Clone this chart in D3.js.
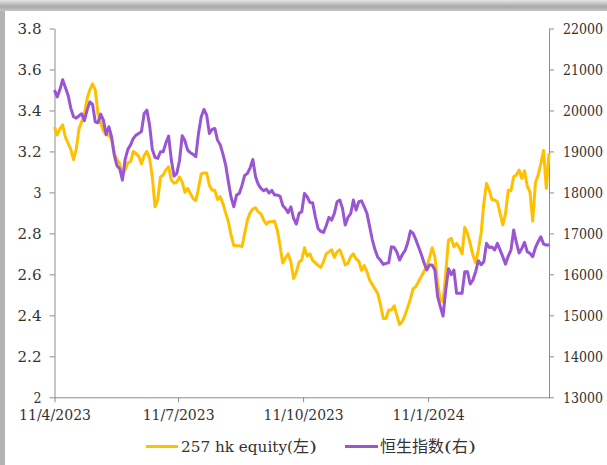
<!DOCTYPE html>
<html><head><meta charset="utf-8">
<script src="https://cdn.jsdelivr.net/npm/d3@7"></script>
<style>
html,body{margin:0;padding:0;background:#fff;}
svg{display:block;}
</style></head>
<body>
<svg id="chart" width="607" height="465"></svg>
<script>
const dates = [
"2023-04-11","2023-04-13","2023-04-15","2023-04-17","2023-04-19","2023-04-21","2023-04-23","2023-04-25","2023-04-27","2023-04-29",
"2023-05-01","2023-05-03","2023-05-05","2023-05-07","2023-05-09","2023-05-11","2023-05-13","2023-05-15","2023-05-17","2023-05-19",
"2023-05-21","2023-05-23","2023-05-25","2023-05-27","2023-05-29","2023-05-31","2023-06-02","2023-06-04","2023-06-06","2023-06-08",
"2023-06-10","2023-06-12","2023-06-14","2023-06-16","2023-06-18","2023-06-20","2023-06-22","2023-06-24","2023-06-26","2023-06-28",
"2023-06-30","2023-07-02","2023-07-04","2023-07-06","2023-07-08","2023-07-10","2023-07-12","2023-07-14","2023-07-16","2023-07-18",
"2023-07-20","2023-07-22","2023-07-24","2023-07-26","2023-07-28","2023-07-30","2023-08-01","2023-08-03","2023-08-05","2023-08-07",
"2023-08-09","2023-08-11","2023-08-13","2023-08-15","2023-08-17","2023-08-19","2023-08-21","2023-08-23","2023-08-25","2023-08-27",
"2023-08-29","2023-08-31","2023-09-02","2023-09-04","2023-09-06","2023-09-08","2023-09-10","2023-09-12","2023-09-14","2023-09-16",
"2023-09-18","2023-09-20","2023-09-22","2023-09-24","2023-09-26","2023-09-28","2023-09-30","2023-10-02","2023-10-04","2023-10-06",
"2023-10-08","2023-10-10","2023-10-12","2023-10-14","2023-10-16","2023-10-18","2023-10-20","2023-10-22","2023-10-24","2023-10-26",
"2023-10-28","2023-10-30","2023-11-01","2023-11-03","2023-11-05","2023-11-07","2023-11-09","2023-11-11","2023-11-13","2023-11-15",
"2023-11-17","2023-11-19","2023-11-21","2023-11-23","2023-11-25","2023-11-27","2023-11-29","2023-12-01","2023-12-03","2023-12-05",
"2023-12-07","2023-12-09","2023-12-11","2023-12-13","2023-12-15","2023-12-17","2023-12-19","2023-12-21","2023-12-23","2023-12-25",
"2023-12-27","2023-12-29","2023-12-31","2024-01-02","2024-01-04","2024-01-06","2024-01-08","2024-01-10","2024-01-12","2024-01-14",
"2024-01-16","2024-01-18","2024-01-20","2024-01-22","2024-01-24","2024-01-26","2024-01-28","2024-01-30","2024-02-01","2024-02-03",
"2024-02-05","2024-02-07","2024-02-09","2024-02-11","2024-02-13","2024-02-15","2024-02-17","2024-02-19","2024-02-21","2024-02-23",
"2024-02-25","2024-02-27","2024-02-29","2024-03-02","2024-03-04","2024-03-06","2024-03-08","2024-03-10","2024-03-12","2024-03-14",
"2024-03-16","2024-03-18","2024-03-20","2024-03-22","2024-03-24","2024-03-26","2024-03-28","2024-03-30","2024-04-01","2024-04-03",
"2024-04-05","2024-04-07","2024-04-09"
];

const equity257 = [
3.32,3.28,3.31,3.33,3.27,3.24,3.21,3.16,3.21,3.31,
3.345,3.38,3.46,3.50,3.53,3.50,3.385,3.34,3.30,3.28,
3.28,3.26,3.19,3.16,3.14,3.085,3.11,3.145,3.15,3.20,
3.19,3.175,3.14,3.18,3.20,3.165,3.075,2.93,2.965,3.075,
3.085,3.11,3.125,3.06,3.045,3.05,3.075,3.05,3.00,3.02,
2.995,2.97,2.96,3.02,3.09,3.095,3.095,3.035,3.01,3.01,
2.965,2.98,2.945,2.90,2.857,2.79,2.74,2.74,2.74,2.735,
2.80,2.865,2.90,2.92,2.925,2.905,2.895,2.865,2.845,2.857,
2.857,2.86,2.816,2.74,2.655,2.68,2.70,2.66,2.58,2.61,
2.66,2.67,2.73,2.69,2.70,2.668,2.656,2.644,2.634,2.662,
2.70,2.71,2.72,2.683,2.71,2.72,2.686,2.646,2.654,2.686,
2.70,2.676,2.665,2.62,2.643,2.613,2.572,2.55,2.528,2.505,
2.45,2.385,2.385,2.426,2.426,2.447,2.40,2.355,2.37,2.40,
2.44,2.48,2.53,2.54,2.566,2.59,2.615,2.637,2.68,2.73,
2.686,2.556,2.475,2.467,2.605,2.767,2.776,2.735,2.751,2.73,
2.70,2.83,2.80,2.75,2.694,2.657,2.72,2.80,2.946,3.044,
3.011,2.965,2.963,2.954,2.898,2.842,2.898,3.011,3.008,3.076,
3.085,3.109,3.068,3.106,3.03,3.003,2.86,3.047,3.085,3.141,
3.205,3.02,3.19
];

const hsi = [
20500,20330,20510,20750,20560,20374,20057,19846,19813,19870,
19920,19750,20008,20210,20150,19724,19700,19910,19764,19415,
19602,19358,18911,18650,18577,18300,18805,19050,19160,19317,
19398,19440,19488,19927,20008,19642,19050,18853,18829,18992,
18992,19210,19375,18789,18398,18463,18773,19382,19260,19033,
18970,18930,18870,19439,19846,20025,19886,19439,19536,19561,
19276,19160,18935,18667,18260,17878,17650,17935,17976,18170,
18415,18463,18600,18805,18382,18195,18098,18040,18080,17985,
18049,17935,17935,17910,17683,17610,17504,17650,17366,17228,
17488,17528,17976,17894,17756,17748,17406,17122,17049,17024,
17187,17390,17325,17488,17772,17813,17610,17203,17390,17480,
17813,17569,17772,17795,17650,17488,17163,16837,16594,16415,
16342,16244,16268,16285,16675,16658,16545,16350,16480,16578,
16772,17057,17000,16846,16667,16488,16285,16106,16228,16228,
16106,15456,15211,14980,15618,16138,15992,16106,15537,15537,
15537,16065,16065,15765,15862,16065,16334,16236,16309,16756,
16658,16667,16594,16756,16594,16431,16250,16447,16594,17081,
16772,16520,16634,16780,16553,16512,16431,16650,16797,16919,
16740,16716,16716
];

const xTickDates = ["2023-04-11","2023-07-11","2023-10-11","2024-01-11"];
const xTickLabels = ["11/4/2023","11/7/2023","11/10/2023","11/1/2024"];
const leftTicks = [2,2.2,2.4,2.6,2.8,3,3.2,3.4,3.6,3.8];
const rightTicks = [13000,14000,15000,16000,17000,18000,19000,20000,21000,22000];
// legend labels split into Latin and CJK parts
const seriesNames = [
  [["257 hk equity(","latin"],["左","cjk"],[")","latin"]],
  [["恒生指数","cjk"],["(","latin"],["右","cjk"],[")","latin"]]
];
const seriesColors = ["#FFC000","#9A55D3"];

const parse = d3.timeParse("%Y-%m-%d");
const svg = d3.select("#chart");

// frame shadow
const defs = svg.append("defs");
const g1 = defs.append("linearGradient").attr("id","topg").attr("x1",0).attr("y1",0).attr("x2",0).attr("y2",1);
g1.append("stop").attr("offset","0%").attr("stop-color","#e6e6e6");
g1.append("stop").attr("offset","60%").attr("stop-color","#a9a9a9");
g1.append("stop").attr("offset","100%").attr("stop-color","#c4c4c4");
svg.append("rect").attr("x",0).attr("y",0).attr("width",607).attr("height",11).attr("fill","url(#topg)");
svg.append("rect").attr("x",0).attr("y",11).attr("width",5).attr("height",454).attr("fill","#b3b3b3");

const L = 54.5, R = 549, T = 28.5, B = 397.3;
const x = d3.scaleTime().domain([parse(dates[0]), parse(dates[dates.length-1])]).range([L, R]);
const yL = d3.scaleLinear().domain([2, 3.8]).range([B, T]);
const yR = d3.scaleLinear().domain([13000, 22000]).range([B, T]);

const axisColor = "#8c8c8c";
const FONT = "DejaVu Serif";
const CJK = "Noto Sans CJK SC";
const FS = 12.6, SY = 1.18;

function styleAxis(g, fixWidth){
  g.attr("font-family", FONT).attr("font-size", FS);
  g.selectAll("path").attr("stroke", axisColor).attr("stroke-width",1);
  g.selectAll("line").attr("stroke", axisColor).attr("stroke-width",1);
  const t = g.selectAll("text").attr("fill","#333").attr("font-family", FONT).attr("font-size", FS)
    .attr("transform", `scale(1,${SY})`);
  if (fixWidth) t.attr("lengthAdjust","spacingAndGlyphs")
    .attr("textLength", function(){ return this.textContent.length * 8; });
}

const gx = svg.append("g").attr("transform",`translate(0,${B})`)
  .call(d3.axisBottom(x).tickValues(xTickDates.map(parse)).tickSize(5).tickSizeOuter(0).tickPadding(4)
    .tickFormat((d,i)=>xTickLabels[i]));
styleAxis(gx, true);
gx.selectAll("text").attr("dy","0.8em");

const gl = svg.append("g").attr("transform",`translate(${L},0)`)
  .call(d3.axisLeft(yL).tickValues(leftTicks).tickSize(5).tickSizeOuter(0).tickPadding(8)
    .tickFormat(d=>String(+d.toFixed(1))));
styleAxis(gl, true);

const gr = svg.append("g").attr("transform",`translate(${R},0)`)
  .call(d3.axisRight(yR).tickValues(rightTicks).tickSize(5).tickSizeOuter(0).tickPadding(9)
    .tickFormat(d3.format("d")));
styleAxis(gr, false);

const pts = dates.map((d,i)=>({date:parse(d), a:equity257[i], b:hsi[i]}));

svg.append("path").datum(pts)
  .attr("fill","none").attr("stroke",seriesColors[0]).attr("stroke-width",3).attr("stroke-linejoin","round")
  .attr("d", d3.line().x(d=>x(d.date)).y(d=>yL(d.a)));
svg.append("path").datum(pts)
  .attr("fill","none").attr("stroke",seriesColors[1]).attr("stroke-width",3).attr("stroke-linejoin","round")
  .attr("d", d3.line().x(d=>x(d.date)).y(d=>yR(d.b)));

// legend
const legY = 446.5;
const legItems = [
  {x1:146, x2:178, tx:181},
  {x1:345, x2:378, tx:380}
];
legItems.forEach((it,i)=>{
  svg.append("line").attr("x1",it.x1).attr("x2",it.x2).attr("y1",legY).attr("y2",legY)
    .attr("stroke",seriesColors[i]).attr("stroke-width",3);
  const lg = svg.append("g").attr("transform",`translate(0,${legY}) scale(1,${SY})`);
  let cx = it.tx;
  seriesNames[i].forEach(([s,kind])=>{
    const w = kind === "cjk" ? s.length*16 : s.length*8;
    lg.append("text").attr("x",cx).attr("y",0).attr("dy","0.35em").attr("fill","#333")
      .style("font-family", kind === "cjk" ? `"${CJK}"` : `"${FONT}"`)
      .style("font-size", (kind === "cjk" ? 13.5 : FS) + "px")
      .attr("textLength", w).attr("lengthAdjust","spacingAndGlyphs")
      .text(s);
    cx += w;
  });
});
</script>
</body></html>
